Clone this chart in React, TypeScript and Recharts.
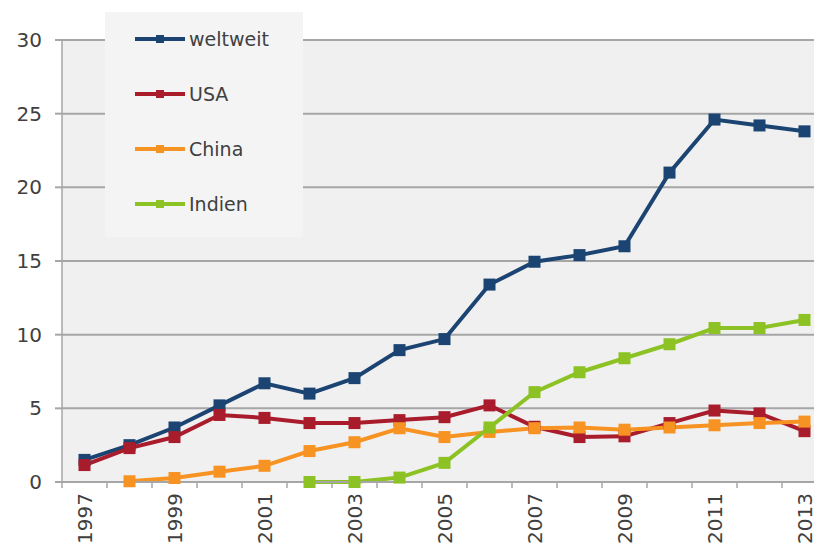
import { LineChart, Line, XAxis, YAxis, CartesianGrid, Legend } from 'recharts'

const years = [1997, 1998, 1999, 2000, 2001, 2002, 2003, 2004, 2005, 2006, 2007, 2008, 2009, 2010, 2011, 2012, 2013]
const weltweit = [1.5, 2.5, 3.7, 5.2, 6.7, 6.0, 7.05, 8.95, 9.7, 13.4, 14.95, 15.4, 16.0, 21.0, 24.6, 24.2, 23.8]
const usa = [1.15, 2.3, 3.05, 4.55, 4.35, 4.0, 4.0, 4.2, 4.4, 5.2, 3.75, 3.05, 3.1, 4.0, 4.85, 4.65, 3.45]
const china = [null, 0.05, 0.27, 0.7, 1.1, 2.1, 2.7, 3.65, 3.05, 3.4, 3.65, 3.7, 3.55, 3.7, 3.85, 4.0, 4.1]
const indien = [null, null, null, null, null, 0, 0, 0.3, 1.3, 3.7, 6.1, 7.45, 8.4, 9.35, 10.45, 10.45, 11.0]
const yTicks = [0, 5, 10, 15, 20, 25, 30]

const series = [
  { key: 'weltweit', name: 'weltweit', color: '#1b4473' },
  { key: 'usa', name: 'USA', color: '#a81c2c' },
  { key: 'china', name: 'China', color: '#f79322' },
  { key: 'indien', name: 'Indien', color: '#8dc224' },
]

const data = years.map((year, i) => ({
  year,
  weltweit: weltweit[i],
  usa: usa[i],
  china: china[i],
  indien: indien[i],
}))

// tick marks sit between the years, labels only on odd years
const xTicks = [...years.flatMap((y) => [y - 0.5, y]), years[years.length - 1] + 0.5]

const GRID = '#a6a6a6'
const TEXT = '#404040'

const YearTick = ({ x, y, payload }: any) => {
  const v = payload.value
  if (!Number.isInteger(v)) {
    return <line x1={x} y1={y} x2={x} y2={y + 6} stroke={GRID} strokeWidth={1.5} />
  }
  if (v % 2 === 0) return <g />
  const ty = y + 11
  return (
    <text
      x={x}
      y={ty}
      transform={`rotate(-90, ${x}, ${ty})`}
      textAnchor="end"
      dominantBaseline="central"
      fill={TEXT}
      fontSize={20}
    >
      {v}
    </text>
  )
}

const squareDot = (color: string) => (props: any) => {
  const { cx, cy, index, value } = props
  if (cx == null || cy == null || value == null) return <g key={index} />
  return <rect key={index} x={cx - 6} y={cy - 6} width={12} height={12} fill={color} />
}

// legend keeps the series order (recharts would sort it by name)
const renderLegend = () => (
  <svg width={198} height={225}>
    {series.map((s, i) => {
      const cy = 27 + i * 55
      return (
        <g key={s.key}>
          <line x1={30} y1={cy} x2={80} y2={cy} stroke={s.color} strokeWidth={4} />
          <rect x={51} y={cy - 4} width={8} height={8} fill={s.color} />
          <text x={84} y={cy} dominantBaseline="central" fill={TEXT} fontSize={19}>
            {s.name}
          </text>
        </g>
      )
    })}
  </svg>
)

const App = () => {
  return (
    <div
      style={{
        position: 'absolute',
        left: 0,
        top: 0,
        width: 814,
        height: 552,
        overflow: 'hidden',
        background: '#ffffff',
        fontFamily: '"DejaVu Sans", sans-serif',
      }}
    >
      <LineChart width={830} height={552} data={data} margin={{ top: 40, right: 3, left: 0, bottom: 0 }}>
        <CartesianGrid vertical={false} stroke={GRID} strokeWidth={2} fill="#f0f0f0" />
        <XAxis
          dataKey="year"
          type="number"
          domain={[1996.5, 2013.5]}
          ticks={xTicks}
          interval={0}
          tickLine={false}
          tickSize={0}
          tickMargin={0}
          height={70}
          axisLine={{ stroke: GRID, strokeWidth: 2 }}
          tick={YearTick}
        />
        <YAxis
          width={62}
          domain={[0, 30]}
          ticks={yTicks}
          interval={0}
          tickSize={7}
          tickMargin={13}
          tickLine={{ stroke: GRID, strokeWidth: 2 }}
          axisLine={{ stroke: GRID, strokeWidth: 1.5 }}
          tick={{ fill: TEXT, fontSize: 20 }}
        />
        <Legend
          layout="vertical"
          align="center"
          verticalAlign="middle"
          wrapperStyle={{ left: 105, top: 12, width: 198, height: 225, background: '#f4f4f4' }}
          content={renderLegend}
        />
        {series.map((s) => (
          <Line
            key={s.key}
            dataKey={s.key}
            name={s.name}
            stroke={s.color}
            strokeWidth={4}
            dot={squareDot(s.color)}
            activeDot={false}
            connectNulls={false}
            isAnimationActive={false}
          />
        ))}
      </LineChart>
    </div>
  )
}

export default App
